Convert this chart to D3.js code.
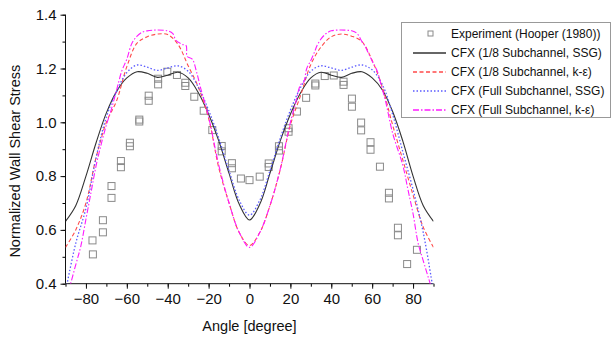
<!DOCTYPE html>
<html>
<head>
<meta charset="utf-8">
<script src="https://cdn.jsdelivr.net/npm/d3@7"></script>
<style>
  body { margin: 0; background: #fff; }
  text { font-family: "Liberation Sans", Arial, sans-serif; }
</style>
</head>
<body>
<div id="chart"></div>
<script>
// experiment (Hooper 1980)
var expAngle = [-76.8,-76.6,-71.7,-71.7,-67.5,-67.5,-62.9,-62.9,-58.5,-58.5,-53.9,-53.9,-49.3,-49.3,-44.7,-44.7,-40.2,-35.5,-31.4,-31.4,-27,-22.4,-18.2,-13.6,-13.6,-8.6,-8.6,-4.2,0,
                5,9.4,9.4,14.4,14.4,19.1,19.1,23.2,27.7,32.2,32.2,36.8,41.2,46,46,50.1,50.1,54.6,54.6,59.2,59.2,63.8,68.2,68.2,72.6,72.6,77.1,81.9];
var expValue = [0.561,0.509,0.636,0.591,0.763,0.719,0.856,0.833,0.924,0.911,1.010,1.003,1.099,1.080,1.162,1.141,1.188,1.176,1.147,1.135,1.095,1.043,0.971,0.912,0.892,0.848,0.829,0.791,0.785,
                0.798,0.847,0.834,0.911,0.895,0.978,0.965,1.040,1.091,1.144,1.137,1.172,1.174,1.151,1.139,1.088,1.058,0.999,0.970,0.926,0.898,0.835,0.738,0.717,0.608,0.580,0.473,0.526];

// CFX curves, 5 degree steps
var angles = [-90,-85,-80,-75,-70,-65,-60,-55,-50,-45,-40,-35,-30,-25,-20,-15,-10,-5,0,5,10,15,20,25,30,35,40,45,50,55,60,65,70,75,80,85,90];
var ssgEighth = [0.632,0.69,0.80,0.925,1.035,1.115,1.165,1.188,1.182,1.167,1.175,1.186,1.165,1.11,1.03,0.93,0.81,0.695,0.637,0.695,0.81,0.93,1.03,1.11,1.165,1.186,1.175,1.167,1.182,1.188,1.165,1.12,1.04,0.93,0.80,0.69,0.632];
var keEighth  = [0.535,0.60,0.70,0.87,1.00,1.08,1.207,1.294,1.318,1.328,1.326,1.29,1.21,1.13,1.015,0.83,0.70,0.59,0.542,0.59,0.69,0.823,0.99,1.10,1.215,1.28,1.318,1.328,1.32,1.30,1.23,1.13,0.99,0.86,0.73,0.61,0.535];
var ssgFull   = [0.37,0.55,0.68,0.87,1.02,1.115,1.185,1.213,1.205,1.193,1.202,1.21,1.19,1.13,1.045,0.94,0.82,0.71,0.655,0.71,0.82,0.94,1.045,1.13,1.19,1.21,1.202,1.193,1.205,1.213,1.195,1.14,1.03,0.89,0.75,0.59,0.37];

// full subchannel k-eps is a bit ragged, finer steps
var anglesKeFull = [-90,-85,-82.5,-80,-77.5,-75,-72.5,-70,-67.5,-65,-62.5,-60,-57.5,-55,-52.5,-50,-45,-40,-37.5,-36,-33,-31,-30.5,-28,-26,-24,-20,-15,-10,-5,0,
                    5,10,15,20,22.5,25,26.5,28,30,32,33,35,37.5,40,45,50,52.5,55,56.5,58,60.5,62.5,64.5,66.5,70,75,77.5,80,82.5,85,90];
var keFull = [0.33,0.47,0.54,0.64,0.74,0.84,0.92,0.99,1.05,1.12,1.19,1.235,1.294,1.32,1.335,1.34,1.343,1.34,1.33,1.305,1.29,1.285,1.245,1.235,1.19,1.13,1.02,0.84,0.70,0.59,0.535,
              0.59,0.69,0.825,1.0,1.07,1.14,1.15,1.2,1.23,1.265,1.285,1.31,1.33,1.34,1.343,1.34,1.331,1.30,1.283,1.26,1.22,1.19,1.135,1.08,0.96,0.84,0.75,0.66,0.55,0.485,0.36];

var xTicks = [-80,-60,-40,-20,0,20,40,60,80];
var yTicks = [0.4,0.6,0.8,1.0,1.2,1.4];

var legendLabels = ["Experiment (Hooper (1980))","CFX (1/8 Subchannel, SSG)","CFX (1/8 Subchannel, k-\u03b5)","CFX (Full Subchannel, SSG)","CFX (Full Subchannel, k-\u03b5)"];

var margin = {top: 14.7, right: 180.5, bottom: 58.3, left: 65.5},
    width = 614 - margin.left - margin.right,
    height = 342 - margin.top - margin.bottom;

var svg = d3.select("#chart")
  .append("svg")
    .attr("width", 614)
    .attr("height", 342)
  .append("g")
    .attr("transform", "translate(" + margin.left + "," + margin.top + ")");

var x = d3.scaleLinear().domain([-90, 90]).range([0, width]);
var y = d3.scaleLinear().domain([0.4, 1.4]).range([height, 0]);

svg.append("clipPath").attr("id", "clip")
  .append("rect").attr("width", width).attr("height", height);

// minor ticks
svg.append("g")
  .attr("transform", "translate(0," + height + ")")
  .call(d3.axisBottom(x).tickValues(d3.range(-90, 91, 10)).tickSize(3).tickFormat(""))
  .call(g => g.select(".domain").remove());
svg.append("g")
  .call(d3.axisLeft(y).tickValues(d3.range(0.4, 1.41, 0.1)).tickSize(3).tickFormat(""))
  .call(g => g.select(".domain").remove());

// axes
var xAxis = svg.append("g")
  .attr("transform", "translate(0," + height + ")")
  .call(d3.axisBottom(x).tickValues(xTicks).tickSize(5).tickPadding(5).tickSizeOuter(0));
var yAxis = svg.append("g")
  .call(d3.axisLeft(y).tickValues(yTicks).tickSize(5).tickPadding(4).tickFormat(d3.format(".1f")).tickSizeOuter(0));
[xAxis, yAxis].forEach(function(a) {
  a.selectAll("text").style("font-size", "15px").attr("fill", "#111");
  a.selectAll("line,path").attr("stroke", "#111");
});
xAxis.select(".domain").attr("d", "M0,0H" + width);
yAxis.select(".domain").attr("d", "M0," + height + "V0");

svg.append("text")
  .attr("x", width / 2).attr("y", height + 47)
  .attr("text-anchor", "middle").style("font-size", "14.5px").attr("fill", "#111")
  .text("Angle [degree]");
svg.append("text")
  .attr("transform", "translate(" + (-46) + "," + (height / 2 + 12) + ") rotate(-90)")
  .attr("text-anchor", "middle").style("font-size", "14.5px").attr("fill", "#111")
  .text("Normalized Wall Shear Stress");

// series
var series = [
  {xs: angles, ys: ssgEighth, color: "#333333", dash: null, w: 1.1},
  {xs: angles, ys: keEighth, color: "#ff4a4a", dash: "4,2.5", w: 1.1},
  {xs: angles, ys: ssgFull, color: "#5b5bff", dash: "1.5,2", w: 1.3},
  {xs: anglesKeFull, ys: keFull, color: "#ff1aff", dash: "6,2,1.5,2", w: 1.1}
];

var line = d3.line()
  .x(d => x(d[0]))
  .y(d => y(d[1]))
  .curve(d3.curveCatmullRom.alpha(0.5));

// experiment squares
svg.append("g")
  .selectAll("rect")
  .data(d3.zip(expAngle, expValue))
  .enter()
  .append("rect")
    .attr("x", d => x(d[0]) - 3.5)
    .attr("y", d => y(d[1]) - 3.5)
    .attr("width", 7)
    .attr("height", 7)
    .attr("fill", "none")
    .attr("stroke", "#8a8a8a")
    .attr("stroke-width", 1);

svg.append("g").attr("clip-path", "url(#clip)")
  .selectAll("path")
  .data(series)
  .enter()
  .append("path")
    .attr("d", d => line(d3.zip(d.xs, d.ys)))
    .attr("fill", "none")
    .attr("stroke", d => d.color)
    .attr("stroke-width", d => d.w)
    .attr("stroke-dasharray", d => d.dash);

// legend
var lg = d3.select("svg").append("g").attr("transform", "translate(401,22)");
lg.append("rect")
  .attr("x", 0.5).attr("y", 0.5).attr("width", 209).attr("height", 95)
  .attr("fill", "#fff").attr("stroke", "#999");
legendLabels.forEach(function(lab, i) {
  var yy = 11.5 + i * 19;
  if (i === 0) {
    lg.append("rect").attr("x", 27).attr("y", yy - 2.5).attr("width", 5).attr("height", 5)
      .attr("fill", "none").attr("stroke", "#8a8a8a");
  } else {
    var s = series[i - 1];
    lg.append("line").attr("x1", 12).attr("x2", 45).attr("y1", yy + 0.5).attr("y2", yy + 0.5)
      .attr("stroke", s.color).attr("stroke-width", 1.4).attr("stroke-dasharray", s.dash);
  }
  lg.append("text").attr("x", 50).attr("y", yy + 4.5)
    .style("font-size", "12px").attr("fill", "#111").text(lab);
});
</script>
</body>
</html>
